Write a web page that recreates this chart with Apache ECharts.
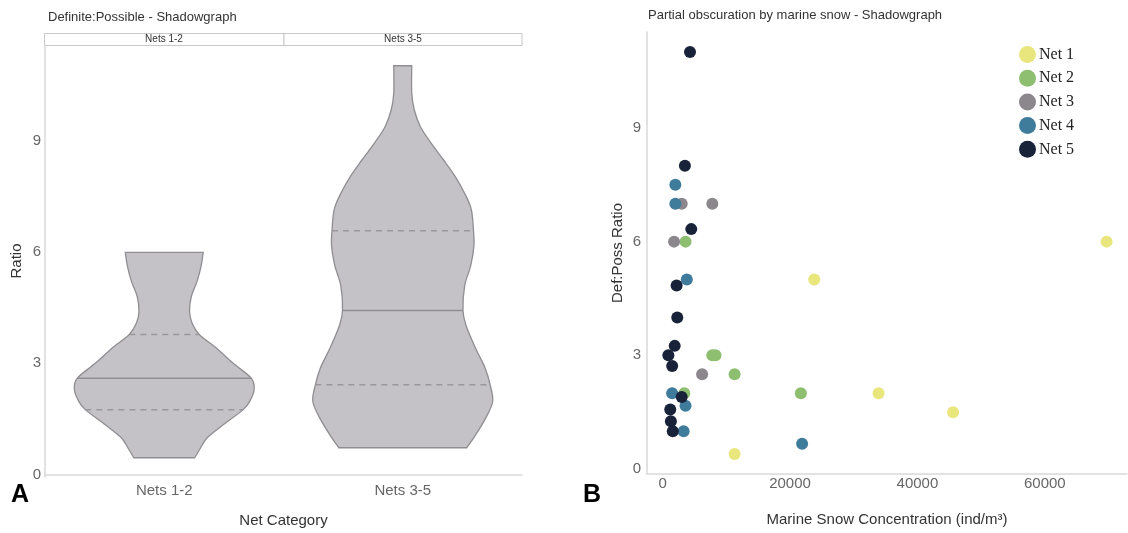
<!DOCTYPE html>
<html><head><meta charset="utf-8">
<script src="https://cdn.jsdelivr.net/npm/echarts@6/dist/echarts.min.js"></script>
<style>html,body{margin:0;padding:0;background:#fff}#c{width:1128px;height:533px}</style>
</head><body><div id="c"></div>
<script>
// ---- Panel A: violin data (density profile; width relative to widest) ----
const categories = ['Nets 1-2', 'Nets 3-5'];
const violin1Y = [0.45, 0.7, 0.99, 1.34, 1.75, 2.0, 2.3, 2.6, 3.0, 3.4, 3.78, 4.1, 4.4, 4.8, 5.2, 5.64, 6.0];
const violin1W = [0.339, 0.40, 0.478, 0.656, 0.878, 0.956, 1.0, 0.967, 0.767, 0.585, 0.389, 0.308, 0.281, 0.30, 0.363, 0.411, 0.433];
const violin2Y = [0.72, 1.07, 1.52, 1.97, 2.42, 2.87, 3.4, 4.03, 4.43, 5.1, 5.64, 6.18, 6.58, 7.16, 7.61, 8.06, 8.5, 8.95, 9.4, 9.85, 10.3, 11.04];
const violin2W = [0.711, 0.811, 0.922, 1.0, 0.972, 0.917, 0.811, 0.703, 0.67, 0.689, 0.756, 0.792, 0.787, 0.762, 0.685, 0.580, 0.452, 0.315, 0.195, 0.128, 0.10, 0.10];
const lowerQuartile = [1.75, 2.42];
const medians = [2.6, 4.43];
const upperQuartile = [3.78, 6.58];
const ratioTicks = [0, 3, 6, 9];

// ---- Panel B: scatter data ----
const netNames = ['Net 1', 'Net 2', 'Net 3', 'Net 4', 'Net 5'];
const net1X = [69700, 23800, 33900, 45600, 11300];
const net1Y = [6.0, 5.0, 2.0, 1.5, 0.4];
const net2X = [3600, 7800, 8300, 11300, 21700, 3400];
const net2Y = [6.0, 3.0, 3.0, 2.5, 2.0, 2.0];
const net3X = [3000, 7800, 1800, 6200];
const net3Y = [7.0, 7.0, 6.0, 2.5];
const net4X = [2000, 2000, 3800, 1500, 3600, 3300, 21900];
const net4Y = [7.5, 7.0, 5.0, 2.0, 1.67, 1.0, 0.67];
const net5X = [4300, 3500, 4500, 2200, 2300, 1900, 900, 1500, 3000, 1200, 1300, 1600];
const net5Y = [11.0, 8.0, 6.33, 4.84, 4.0, 3.25, 3.0, 2.72, 1.9, 1.57, 1.26, 1.0];
const concTicks = [0, 20000, 40000, 60000];
const netColors = ['#e8e67c', '#8ebe70', '#8b878d', '#3f7b9b', '#18233a'];

const violins = [
  {y: violin1Y, w: violin1W},
  {y: violin2Y, w: violin2W}
];
const netX = [net1X, net2X, net3X, net4X, net5X];
const netY = [net1Y, net2Y, net3Y, net4Y, net5Y];

function sidePath(pts) {
  let d = '';
  for (let i = 0; i < pts.length - 1; i++) {
    const p0 = pts[Math.max(i - 1, 0)], p1 = pts[i], p2 = pts[i + 1], p3 = pts[Math.min(i + 2, pts.length - 1)];
    const c1 = [p1[0] + (p2[0] - p0[0]) / 6, p1[1] + (p2[1] - p0[1]) / 6];
    const c2 = [p2[0] - (p3[0] - p1[0]) / 6, p2[1] - (p3[1] - p1[1]) / 6];
    d += ' C' + c1[0] + ',' + c1[1] + ' ' + c2[0] + ',' + c2[1] + ' ' + p2[0] + ',' + p2[1];
  }
  return d;
}
function widthAt(prof, v) {
  for (let k = 0; k < prof.y.length - 1; k++) {
    if (v >= prof.y[k] && v <= prof.y[k + 1]) {
      const t = (v - prof.y[k]) / (prof.y[k + 1] - prof.y[k]);
      return prof.w[k] + t * (prof.w[k + 1] - prof.w[k]);
    }
  }
  return prof.w[prof.w.length - 1];
}

const stroke = '#8f8e92';
const chart = echarts.init(document.getElementById('c'), null, {renderer: 'canvas'});
const tickLabel = {color: '#666', fontSize: 15, fontFamily: 'Liberation Sans'};
const axisNameStyle = {color: '#333', fontSize: 15, fontFamily: 'Liberation Sans'};

const option = {
  animation: false,
  backgroundColor: '#fff',
  title: [
    {text: 'Definite:Possible - Shadowgraph', left: 43, top: 6, textStyle: {fontSize: 13, fontWeight: 'normal', color: '#333', fontFamily: 'Liberation Sans'}},
    {text: 'Partial obscuration by marine snow - Shadowgraph', left: 643, top: 4, textStyle: {fontSize: 13, fontWeight: 'normal', color: '#333', fontFamily: 'Liberation Sans'}}
  ],
  legend: {
    data: netNames, orient: 'vertical', left: 1014, top: 41, icon: 'circle',
    itemWidth: 17, itemHeight: 17, itemGap: 6.7,
    textStyle: {fontFamily: 'Liberation Serif', fontSize: 16, color: '#222', padding: [0, 0, 0, -2]}
  },
  grid: [
    {left: 45, top: 45, width: 477, height: 433},
    {left: 647, top: 32, right: 1, height: 442}
  ],
  xAxis: [
    {type: 'category', gridIndex: 0, data: categories, boundaryGap: true,
     axisLine: {lineStyle: {color: '#d9d9d9', width: 1.5}}, axisTick: {show: false},
     axisLabel: Object.assign({margin: 6}, tickLabel),
     name: 'Net Category', nameLocation: 'middle', nameGap: 36, nameTextStyle: axisNameStyle},
    {type: 'value', gridIndex: 1, min: -2450, max: 72900,
     axisLine: {show: true, onZero: false, lineStyle: {color: '#d9d9d9', width: 1.5}}, axisTick: {show: false},
     splitLine: {show: false},
     axisLabel: Object.assign({margin: 2, customValues: concTicks, formatter: v => String(v)}, tickLabel),
     name: 'Marine Snow Concentration (ind/m³)', nameLocation: 'middle', nameGap: 38, nameTextStyle: axisNameStyle}
  ],
  yAxis: [
    {type: 'value', gridIndex: 0, min: -0.07, max: 11.6,
     axisLine: {show: true, onZero: false, lineStyle: {color: '#d9d9d9', width: 1.5}}, axisTick: {show: false},
     splitLine: {show: false},
     axisLabel: Object.assign({margin: 4, customValues: ratioTicks}, tickLabel),
     name: 'Ratio', nameLocation: 'middle', nameGap: 21, nameTextStyle: axisNameStyle},
    {type: 'value', gridIndex: 1, min: -0.13, max: 11.53,
     axisLine: {show: true, onZero: false, lineStyle: {color: '#d9d9d9', width: 1.5}}, axisTick: {show: false},
     splitLine: {show: false},
     axisLabel: Object.assign({margin: 6, customValues: ratioTicks}, tickLabel),
     name: 'Def:Poss Ratio', nameLocation: 'middle', nameGap: 22, nameTextStyle: axisNameStyle}
  ],
  series: [
    {
      type: 'custom', xAxisIndex: 0, yAxisIndex: 0,
      data: categories.map((c, i) => [i, medians[i]]),
      encode: {x: 0, y: 1},
      renderItem: function (params, api) {
        const i = params.dataIndex;
        const prof = violins[i];
        const cx = api.coord([i, 0])[0];
        const band = api.size([1, 0])[0];
        const scale = band * 0.377;
        const left = prof.y.map((y, k) => [cx - prof.w[k] * scale, api.coord([i, y])[1]]);
        const right = prof.y.map((y, k) => [cx + prof.w[k] * scale, api.coord([i, y])[1]]).reverse();
        const d = 'M' + left[0][0] + ',' + left[0][1] + sidePath(left) +
          ' L' + right[0][0] + ',' + right[0][1] + sidePath(right) + ' Z';
        const hline = (v, dashed) => {
          const hw = widthAt(prof, v) * scale;
          const py = api.coord([i, v])[1];
          return {type: 'line', shape: {x1: cx - hw, y1: py, x2: cx + hw, y2: py},
            style: {stroke: dashed ? '#99979b' : stroke, lineWidth: 1.5, lineDash: dashed ? [6, 5] : null}};
        };
        return {type: 'group', children: [
          {type: 'path', shape: {pathData: d}, style: {fill: '#c4c2c6', stroke: stroke, lineWidth: 1.3}},
          hline(lowerQuartile[i], true),
          hline(medians[i], false),
          hline(upperQuartile[i], true)
        ]};
      }
    }
  ].concat(netNames.map((n, s) => ({
    type: 'scatter', name: n, xAxisIndex: 1, yAxisIndex: 1, symbolSize: 12,
    itemStyle: {color: netColors[s], opacity: 1},
    data: netX[s].map((x, k) => [x, netY[s][k]])
  }))),
  graphic: [
    {type: 'rect', shape: {x: 44.5, y: 33.5, width: 239.5, height: 12}, style: {fill: '#fff', stroke: '#c8c8c8', lineWidth: 1}},
    {type: 'rect', shape: {x: 284, y: 33.5, width: 238, height: 12}, style: {fill: '#fff', stroke: '#c8c8c8', lineWidth: 1}},
    {type: 'text', x: 164, y: 39.5, style: {text: 'Nets 1-2', fontSize: 10, fill: '#333', fontFamily: 'Liberation Sans', align: 'center', verticalAlign: 'middle'}},
    {type: 'text', x: 403, y: 39.5, style: {text: 'Nets 3-5', fontSize: 10, fill: '#333', fontFamily: 'Liberation Sans', align: 'center', verticalAlign: 'middle'}},
    {type: 'text', x: 20, y: 495, style: {text: 'A', fontSize: 25, fontWeight: 'bold', fill: '#000', fontFamily: 'Liberation Sans', align: 'center', verticalAlign: 'middle'}},
    {type: 'text', x: 592, y: 495, style: {text: 'B', fontSize: 25, fontWeight: 'bold', fill: '#000', fontFamily: 'Liberation Sans', align: 'center', verticalAlign: 'middle'}}
  ]
};
chart.setOption(option);
</script>
</body></html>
